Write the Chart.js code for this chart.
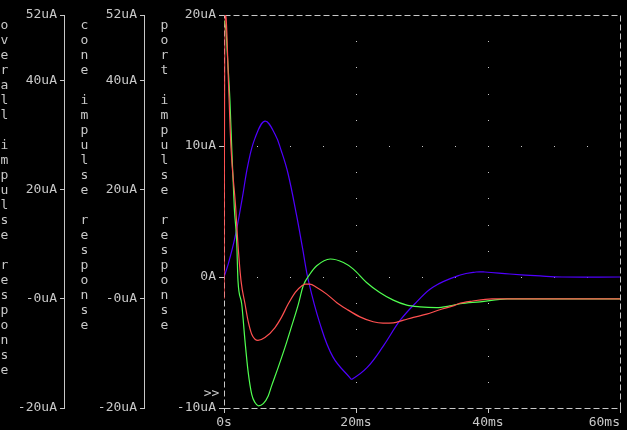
<!DOCTYPE html>
<html>
<head>
<meta charset="utf-8">
<script src="https://cdn.jsdelivr.net/npm/chart.js@4/dist/chart.umd.min.js"></script>
<style>
html, body { margin: 0; padding: 0; background: #000; }
canvas { display: block; background: #000; }
</style>
</head>
<body>
<canvas id="myChart" width="627" height="430"></canvas>
<script>
// time in ms, current in uA
var overallT = [0, 0.15, 0.3, 0.68, 1.06, 1.77, 2.08, 2.58, 3.18, 3.64, 4.2, 4.7, 5.15, 6.2, 7.7, 8.7, 9.7, 10.8, 11.8, 12.3, 13.0, 14.05, 15.56, 17.1, 18.6, 20.6, 22.6, 24.1, 25.65, 27.2, 28.7, 30.7, 32.7, 34.7, 35.5, 37.7, 40.6, 50, 60];
var overallV = [0, 52, 51.6, 39.6, 27.7, 16.7, 10.6, 3.3, -0.9, -4.0, -6.5, -7.4, -7.6, -7.1, -5.3, -3.4, -1.0, 1.2, 2.4, 2.7, 2.7, 2.06, 0.86, -0.7, -1.9, -3.3, -4.2, -4.45, -4.4, -3.9, -3.4, -2.8, -2.0, -1.3, -0.9, -0.4, 0, 0, 0];

var coneT = [0, 0.3, 0.5, 0.9, 1.17, 1.56, 1.92, 2.12, 2.68, 3.18, 3.64, 4.2, 4.7, 5.2, 5.95, 6.7, 7.2, 8.2, 9.24, 10.25, 11.26, 12.0, 13.0, 14.05, 16.1, 18.1, 19.6, 21.6, 23.6, 25.65, 27.7, 29.7, 32.2, 34.2, 35.8, 38.8, 42.9, 50, 60];
var coneV = [51, 49.2, 45, 36.3, 27.7, 16.7, 10.6, 3.3, -0.9, -7.7, -13.2, -17.5, -19.0, -19.6, -19.2, -17.8, -16.0, -12.6, -8.9, -5.0, -1.0, 2.4, 4.5, 6.05, 7.3, 6.66, 5.45, 3.0, 1.16, -0.24, -1.16, -1.47, -1.6, -1.3, -0.9, -0.55, 0, 0, 0];

var portT = [0, 0.6, 1.67, 2.73, 3.64, 4.7, 6.2, 7.73, 8.7, 9.7, 11.0, 11.9, 12.8, 14.5, 16.5, 19.1, 19.4, 21.7, 24.1, 26.7, 29.2, 31.7, 35.8, 38.2, 39.5, 43.3, 47.9, 51.2, 60];
var portV = [0, 0.92, 3.05, 5.9, 8.6, 10.6, 11.9, 10.9, 9.6, 7.9, 4.7, 2.2, -0.3, -3.5, -6.1, -7.7, -7.8, -6.9, -5.3, -3.3, -1.9, -0.76, 0.15, 0.38, 0.38, 0.23, 0.08, 0, 0];

var timeTicks = [0, 20, 40, 60];
var sideTicks = [-20, 0, 20, 40, 52];
var portTicks = [-10, 0, 10, 20];
var axisTitles = ['overall impulse response', 'cone impulse response', 'port impulse response'];

var grey = '#c8c8c8';
var monoFont = { family: 'DejaVu Sans Mono', size: 13 };

function pts(t, v) {
    return t.map(function (x, i) { return { x: x, y: v[i] }; });
}

function fixTicks(list) {
    return function (scale) {
        scale.ticks = list.map(function (v) { return { value: v }; });
    };
}

function fixWidth(w) {
    return function (scale) {
        scale.width = w;
        scale.paddingTop = 0;
        scale.paddingBottom = 0;
    };
}

function uA(v) {
    return (v === 0 ? '-0' : v) + 'uA';
}

// dashed frame + dotted grid like the spice plot window
var framePlugin = {
    id: 'frame',
    beforeDatasetsDraw: function (chart) {
        var ctx = chart.ctx;
        var a = chart.chartArea;
        var xs = chart.scales.x;
        var ys = chart.scales.yPort;
        ctx.save();
        ctx.strokeStyle = grey;
        ctx.lineWidth = 1;
        ctx.setLineDash([6, 3]);
        ctx.strokeRect(Math.round(a.left) + 0.5, Math.round(a.top) + 0.5,
            Math.round(a.right - a.left), Math.round(a.bottom - a.top));
        ctx.setLineDash([]);
        ctx.fillStyle = grey;
        [10, 0].forEach(function (v) {
            var py = Math.round(ys.getPixelForValue(v));
            for (var t = 5; t < 60; t += 5) {
                ctx.fillRect(Math.round(xs.getPixelForValue(t)), py, 1, 1);
            }
        });
        [20, 40].forEach(function (t) {
            var px = Math.round(xs.getPixelForValue(t));
            for (var v = -8; v < 20; v += 2) {
                ctx.fillRect(px, Math.round(ys.getPixelForValue(v)), 1, 1);
            }
        });
        ctx.restore();
    },
    afterDraw: function (chart) {
        var ctx = chart.ctx;
        ctx.save();
        ctx.fillStyle = grey;
        ctx.font = '13px "DejaVu Sans Mono"';
        ctx.textAlign = 'center';
        ctx.textBaseline = 'alphabetic';
        axisTitles.forEach(function (title, k) {
            for (var i = 0; i < title.length; i++) {
                ctx.fillText(title[i], 4.5 + 80 * k, 28.5 + 15 * i);
            }
        });
        ctx.fillText('>>', 211.5, 397);
        ctx.restore();
    }
};

var ctx = document.getElementById('myChart').getContext('2d');
var chart = new Chart(ctx, {
    type: 'line',
    data: {
        datasets: [{
            label: axisTitles[0],
            data: pts(overallT, overallV),
            yAxisID: 'yOverall',
            borderColor: '#ff5050',
            cubicInterpolationMode: 'monotone'
        }, {
            label: axisTitles[1],
            data: pts(coneT, coneV),
            yAxisID: 'yCone',
            borderColor: '#50ff50',
            cubicInterpolationMode: 'monotone'
        }, {
            label: axisTitles[2],
            data: pts(portT, portV),
            yAxisID: 'yPort',
            borderColor: '#5000ff',
            tension: 0.4
        }]
    },
    options: {
        responsive: false,
        animation: false,
        devicePixelRatio: 1,
        layout: { padding: { top: 15, right: 7, left: 0, bottom: 0 } },
        elements: {
            line: { borderWidth: 1.2, fill: false },
            point: { radius: 0 }
        },
        plugins: { legend: { display: false }, tooltip: { enabled: false } },
        scales: {
            x: {
                type: 'linear', position: 'bottom', min: 0, max: 60,
                afterBuildTicks: fixTicks(timeTicks),
                afterFit: function (scale) {
                    scale.height = 22;
                    scale.paddingLeft = 0;
                    scale.paddingRight = 0;
                },
                ticks: {
                    color: grey, font: monoFont, padding: 2, maxRotation: 0, autoSkip: false,
                    callback: function (v) {
                        if (v === 0) return '0s';
                        var s = v + 'ms';
                        // last label sits left of its tick
                        if (v === timeTicks[timeTicks.length - 1]) s = s + '    ';
                        return s;
                    }
                },
                grid: { drawOnChartArea: false, drawTicks: true, tickLength: 5, color: grey },
                border: { display: false }
            },
            yPort: {
                type: 'linear', position: 'left', min: -10, max: 20, weight: 0,
                afterBuildTicks: fixTicks(portTicks),
                afterFit: fixWidth(80),
                ticks: {
                    color: grey, font: monoFont, padding: 3,
                    callback: function (v) { return v === 0 ? '0A' : v + 'uA'; }
                },
                grid: { drawOnChartArea: false, drawTicks: true, tickLength: 5, color: grey },
                border: { display: false }
            },
            yCone: {
                type: 'linear', position: 'left', min: -20, max: 52, weight: 1,
                afterBuildTicks: fixTicks(sideTicks),
                afterFit: fixWidth(80),
                ticks: { color: grey, font: monoFont, padding: 3, callback: uA },
                grid: { drawOnChartArea: false, drawTicks: true, tickLength: 4, color: grey },
                border: { display: true, color: grey, width: 1 }
            },
            yOverall: {
                type: 'linear', position: 'left', min: -20, max: 52, weight: 2,
                afterBuildTicks: fixTicks(sideTicks),
                afterFit: fixWidth(64),
                ticks: { color: grey, font: monoFont, padding: 3, callback: uA },
                grid: { drawOnChartArea: false, drawTicks: true, tickLength: 4, color: grey },
                border: { display: true, color: grey, width: 1 }
            }
        }
    },
    plugins: [framePlugin]
});
</script>
</body>
</html>
